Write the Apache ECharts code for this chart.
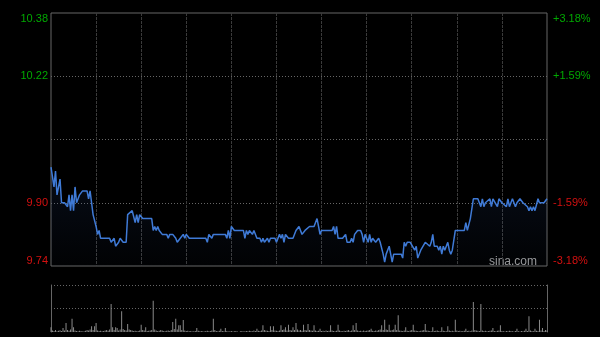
<!DOCTYPE html>
<html>
<head>
<meta charset="utf-8">
<script src="https://cdn.jsdelivr.net/npm/echarts@6/dist/echarts.min.js"></script>
<style>
html,body{margin:0;padding:0;background:#000;}
#chart{width:600px;height:337px;}
</style>
</head>
<body>
<div id="chart"></div>
<script>
// 昨收
var prevClose = 10.06;
// 分时: 距 09:30 的分钟数 (港股 330 分钟)
var lineMin = [0,2,3,4,5,6,7,9,11,12,13,14,15,16,17,18,19,21,24,25,26,27,28,30,31,32,33,35,39,40,42,43,45,46,48,50,51,54,56,57,58,59,61,67,68,69,70,71,72,74,77,78,79,81,83,84,86,88,89,90,92,103,104,105,107,108,116,117,118,119,120,121,122,128,129,130,131,132,134,135,137,139,140,141,142,144,145,146,149,150,152,153,154,155,156,158,161,163,165,166,167,169,170,172,175,177,178,179,180,187,188,189,190,191,194,196,197,199,200,201,202,204,206,207,208,209,210,211,212,213,214,216,218,219,221,222,223,225,226,227,228,233,234,235,236,237,239,240,242,243,244,246,247,249,250,252,253,254,255,257,258,259,260,261,262,263,264,265,266,267,269,275,276,277,279,281,284,286,287,288,289,290,292,293,294,295,297,298,300,301,303,304,305,307,308,309,310,312,314,315,317,318,319,320,321,322,323,324,325,328,330];
var linePrice = [9.99,9.94,9.98,9.92,9.92,9.96,9.90,9.90,9.89,9.92,9.88,9.92,9.88,9.94,9.90,9.90,9.92,9.93,9.93,9.91,9.93,9.90,9.87,9.84,9.82,9.83,9.81,9.81,9.81,9.80,9.81,9.79,9.80,9.81,9.80,9.80,9.87,9.88,9.85,9.87,9.85,9.87,9.86,9.86,9.83,9.84,9.83,9.84,9.83,9.82,9.82,9.81,9.82,9.82,9.81,9.80,9.81,9.82,9.81,9.82,9.81,9.81,9.80,9.82,9.81,9.82,9.82,9.81,9.83,9.81,9.84,9.84,9.83,9.83,9.81,9.83,9.82,9.83,9.82,9.83,9.81,9.81,9.80,9.81,9.80,9.81,9.80,9.81,9.81,9.80,9.82,9.81,9.82,9.80,9.82,9.81,9.81,9.83,9.84,9.84,9.82,9.83,9.83,9.84,9.84,9.86,9.84,9.82,9.83,9.83,9.84,9.82,9.84,9.81,9.81,9.82,9.80,9.80,9.81,9.80,9.82,9.83,9.83,9.82,9.80,9.82,9.82,9.80,9.82,9.80,9.81,9.80,9.81,9.80,9.77,9.75,9.77,9.79,9.79,9.75,9.77,9.77,9.76,9.80,9.79,9.80,9.80,9.80,9.78,9.79,9.76,9.78,9.78,9.80,9.80,9.79,9.80,9.82,9.79,9.79,9.78,9.79,9.77,9.79,9.78,9.79,9.80,9.78,9.77,9.78,9.83,9.83,9.85,9.83,9.86,9.91,9.91,9.89,9.91,9.89,9.90,9.90,9.91,9.89,9.91,9.91,9.89,9.91,9.90,9.90,9.89,9.91,9.89,9.91,9.90,9.89,9.90,9.91,9.90,9.90,9.89,9.88,9.89,9.88,9.89,9.88,9.88,9.91,9.90,9.90,9.91];
// 成交量, 每分钟一个
var volAmt = [
    47,15,10,20,8,12,18,10,40,15,
    90,20,12,25,133,47,15,10,8,12,
    10,5,8,12,20,15,25,57,20,57,
    90,15,10,12,8,10,15,20,12,25,
    280,47,20,47,40,15,25,207,30,20,
    15,80,25,20,15,10,12,8,10,15,
    73,20,15,47,10,12,15,20,313,25,
    15,10,12,20,15,10,8,12,15,10,
    20,100,30,133,25,67,67,20,120,15,
    10,12,8,10,5,8,10,40,12,8,
    10,8,5,10,12,8,10,15,133,20,
    10,8,12,33,10,8,40,10,5,8,
    10,5,8,10,5,0,8,10,5,8,
    10,8,12,10,8,15,10,33,12,10,
    15,67,20,15,12,10,57,20,57,15,
    12,10,15,67,20,25,47,15,73,20,
    15,47,20,90,25,15,20,12,73,20,
    15,80,20,15,12,67,15,10,12,33,
    10,12,8,15,10,12,67,15,10,8,
    12,73,15,10,8,12,10,15,20,10,
    15,67,20,90,15,10,12,8,15,10,
    12,15,20,33,12,10,15,12,20,25,
    67,20,123,25,20,73,15,20,25,73,
    20,167,15,12,10,15,47,12,10,15,
    20,73,15,12,10,8,12,15,20,80,
    15,12,10,8,47,10,12,15,10,8,
    47,12,10,8,57,15,10,12,8,123,
    15,10,12,8,10,12,33,10,12,8,
    15,300,20,15,12,10,280,15,10,12,
    8,10,12,15,40,10,8,12,15,67,
    10,8,5,10,8,12,10,8,5,10,
    33,8,5,10,8,12,33,10,157,15,
    10,8,33,12,10,123,15,40,10,20,
    15
];

var lineData = [];
for (var i = 0; i < lineMin.length; i++) {
    lineData.push([lineMin[i], linePrice[i]]);
}
var volData = [];
for (var j = 0; j < volAmt.length; j++) {
    volData.push([j, volAmt[j]]);
}

function isMid(v) {
    return Math.abs(v - prevClose) < 0.001;
}
function upDownColor(v) {
    return v > prevClose ? '#00a800' : '#d41010';
}

var myChart = echarts.init(document.getElementById('chart'));
var option = {
    backgroundColor: '#000',
    animation: false,
    grid: [
        {left: 51, top: 13, width: 496, height: 253, show: true, borderColor: '#666', borderWidth: 1, backgroundColor: 'transparent'},
        {left: 51, top: 285, width: 496, height: 47}
    ],
    graphic: [{
        type: 'text',
        right: 63,
        top: 256,
        style: {text: 'sina.com', fill: '#9a9a9a', font: '12px "Liberation Sans", Arial'}
    }],
    xAxis: [
        {
            type: 'value', gridIndex: 0, min: 0, max: 330, interval: 30,
            axisLine: {show: false}, axisTick: {show: false}, axisLabel: {show: false},
            splitLine: {show: true, showMinLine: false, showMaxLine: false, lineStyle: {color: '#3a3a3a', type: [3, 1], width: 1}}
        },
        {
            type: 'value', gridIndex: 1, min: 0, max: 330,
            axisLine: {show: false}, axisTick: {show: false}, axisLabel: {show: false},
            splitLine: {show: false}
        }
    ],
    yAxis: [
        {
            type: 'value', gridIndex: 0, min: 9.74, max: 10.38, interval: 0.16,
            axisLine: {show: false}, axisTick: {show: false},
            axisLabel: {
                margin: 3, fontSize: 11, fontFamily: '"Liberation Sans", Arial',
                verticalAlignMaxLabel: 'top', verticalAlignMinLabel: 'bottom',
                color: function (v) { return upDownColor(v); },
                formatter: function (v) { return isMid(v) ? '' : v.toFixed(2); }
            },
            splitLine: {show: true, showMinLine: false, showMaxLine: false, lineStyle: {color: '#666', type: [1, 2], width: 1}}
        },
        {
            type: 'value', gridIndex: 0, position: 'right', min: 9.74, max: 10.38, interval: 0.16,
            axisLine: {show: false}, axisTick: {show: false},
            axisLabel: {
                margin: 6, fontSize: 11, fontFamily: '"Liberation Sans", Arial',
                verticalAlignMaxLabel: 'top', verticalAlignMinLabel: 'bottom',
                color: function (v) { return upDownColor(v); },
                formatter: function (v) {
                    if (isMid(v)) return '';
                    var p = (v - prevClose) / prevClose * 100;
                    return (p > 0 ? '+' : '') + p.toFixed(2) + '%';
                }
            },
            splitLine: {show: false}
        },
        {
            type: 'value', gridIndex: 1, min: 0, max: 470, interval: 235,
            axisLine: {show: true, lineStyle: {color: '#666'}}, axisTick: {show: false}, axisLabel: {show: false},
            splitLine: {show: true, showMinLine: false, lineStyle: {color: '#666', type: [1, 2], width: 1}}
        },
        {
            type: 'value', gridIndex: 1, position: 'right', min: 0, max: 470, interval: 235,
            axisLine: {show: true, lineStyle: {color: '#666'}}, axisTick: {show: false}, axisLabel: {show: false},
            splitLine: {show: false}
        }
    ],
    series: [
        {
            name: '价格',
            type: 'line',
            xAxisIndex: 0, yAxisIndex: 0,
            data: lineData,
            symbol: 'none',
            lineStyle: {color: '#3f7ad6', width: 1.5},
            areaStyle: {
                origin: 'start',
                color: new echarts.graphic.LinearGradient(0, 0, 0, 1, [
                    {offset: 0, color: 'rgba(50,90,170,0.2)'},
                    {offset: 1, color: 'rgba(50,90,170,0.03)'}
                ])
            }
        },
        {
            name: '成交量',
            type: 'bar',
            xAxisIndex: 1, yAxisIndex: 2,
            data: volData,
            barWidth: 1,
            itemStyle: {color: '#8a8a8a'}
        }
    ]
};
myChart.setOption(option);
</script>
</body>
</html>
